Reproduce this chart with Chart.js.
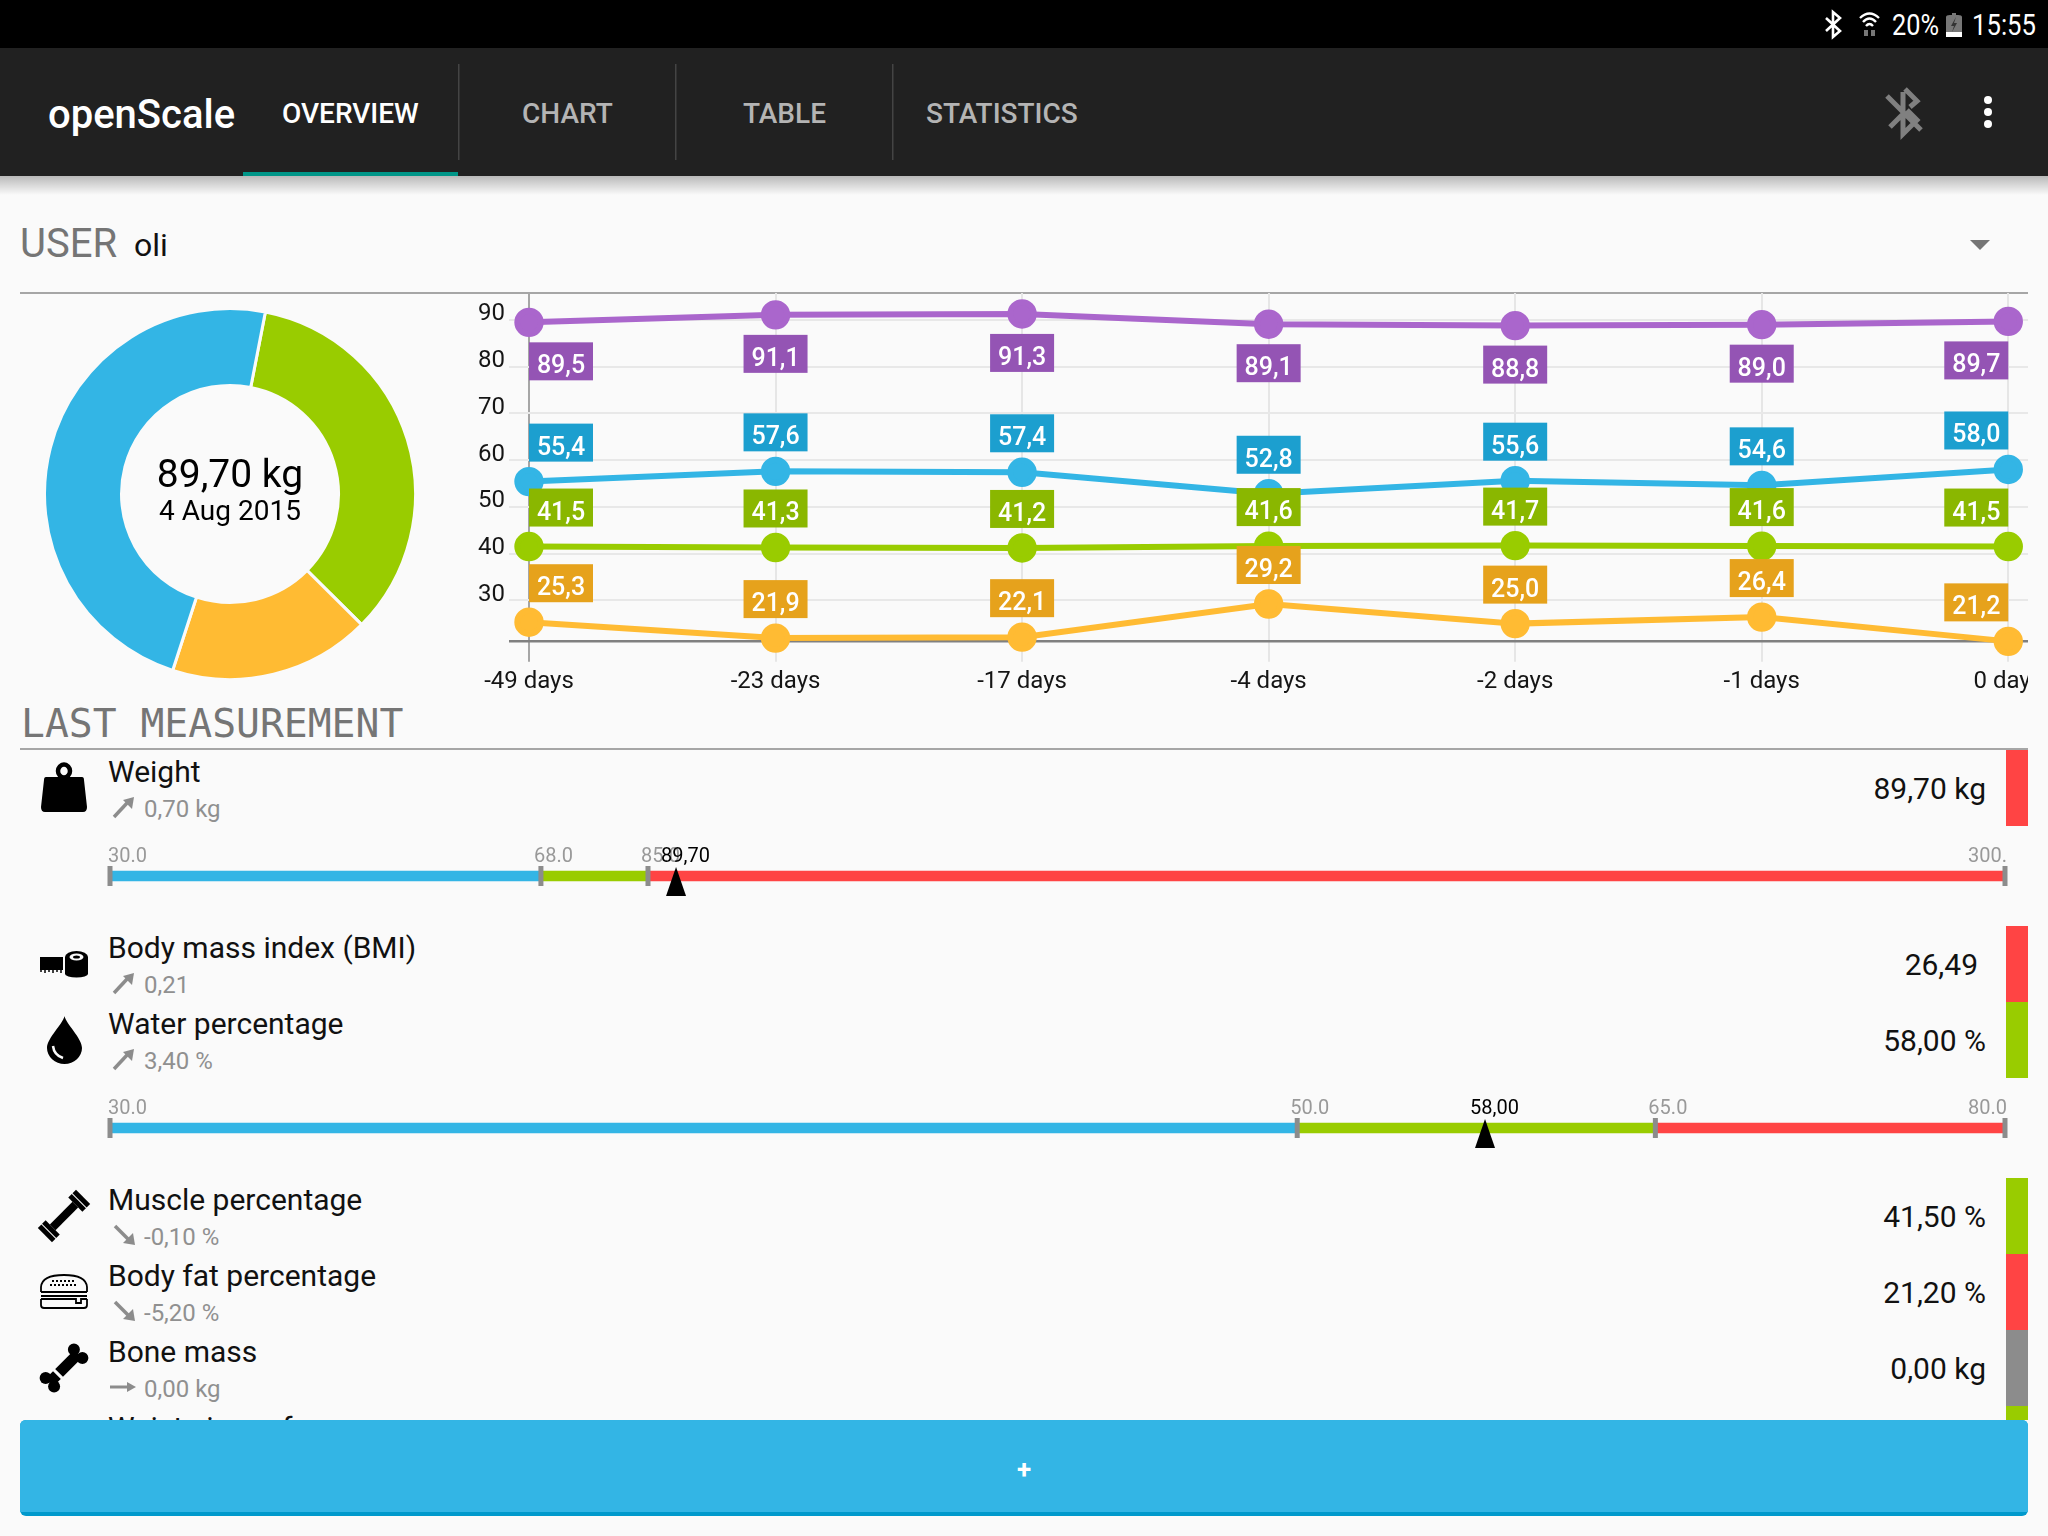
<!DOCTYPE html>
<html>
<head>
<meta charset="utf-8">
<title>openScale</title>
<script src="https://cdn.jsdelivr.net/npm/chart.js@4/dist/chart.umd.min.js"></script>
<style>
    html, body { margin: 0; padding: 0; background: #fafafa; }
    #page { position: relative; width: 2048px; height: 1536px; overflow: hidden; }
    #page svg { position: absolute; left: 0; top: 0; }
    canvas { position: absolute; }
    text { font-family: Roboto, sans-serif; }
    .tab { font-size: 28px; font-weight: 500; fill: #b4b4b4; }
    .title { font-size: 30px; fill: #111; }
    .sub { font-size: 24px; fill: #909090; }
    .val { font-size: 30px; fill: #111; text-anchor: end; }
    .rule { fill: #a6a6a6; }
</style>
</head>
<body>
<div id="page">
<svg width="2048" height="1536" viewBox="0 0 2048 1536">
    <defs>
        <linearGradient id="headShadow" x1="0" y1="0" x2="0" y2="1">
            <stop offset="0" stop-color="#000" stop-opacity="0.26"/>
            <stop offset="1" stop-color="#000" stop-opacity="0"/>
        </linearGradient>
        <g id="arrowUp"><path d="M2 20 L16 5" stroke="#8c8c8c" stroke-width="3.5" fill="none"/><path d="M22 0 L20 12 L11 3Z" fill="#8c8c8c"/></g>
        <g id="arrowDown"><path d="M2 1 L16 15" stroke="#8c8c8c" stroke-width="3.5" fill="none"/><path d="M22 20 L10 18 L20 8Z" fill="#8c8c8c"/></g>
    </defs>

    <!-- status bar -->
    <rect x="0" y="0" width="2048" height="48" fill="#000"/>
    <path d="M1826 18 L1840 31 L1833 37 V12 L1840 18 L1826 31" stroke="#fff" stroke-width="2.6" fill="none"/>
    <g fill="none" stroke="#fff" stroke-width="2.4">
        <path d="M1860 18 Q1869.500 9 1879 18"/><path d="M1863 22 Q1869.500 15 1876 22"/><path d="M1866 26 Q1869.500 22 1873 26"/>
    </g>
    <path d="M1864 30 h4 v6 h-4z M1871 30 h4 v6 h-4z" fill="#777"/>
    <text x="1892" y="35" font-size="30" fill="#fff" textLength="47" lengthAdjust="spacingAndGlyphs">20%</text>
    <path d="M1950 15 h2 v-2 h4 v2 h2 q4 0 4 2 v15 h-16 v-15 q0 -2 4 -2z" fill="#777"/>
    <path d="M1956 17 L1951 26 H1954 L1952 32 L1957 23 H1954Z" fill="#333"/>
    <rect x="1946" y="32" width="16" height="5" fill="#fff"/>
    <text x="1972" y="35" font-size="30" fill="#fff" textLength="64" lengthAdjust="spacingAndGlyphs">15:55</text>

    <!-- action bar -->
    <rect x="0" y="48" width="2048" height="128" fill="#212121"/>
    <text x="48" y="128" font-size="40" font-weight="500" fill="#fff">openScale</text>
    <text x="282" y="123" class="tab" style="fill:#fff">OVERVIEW</text>
    <text x="522" y="123" class="tab">CHART</text>
    <text x="743" y="123" class="tab">TABLE</text>
    <text x="926" y="123" class="tab">STATISTICS</text>
    <rect x="458" y="64" width="1.500" height="96" fill="#444"/>
    <rect x="675" y="64" width="1.500" height="96" fill="#444"/>
    <rect x="892" y="64" width="1.500" height="96" fill="#444"/>
    <rect x="243" y="172" width="215" height="4" fill="#009688"/>
    <path d="M1887 96 L1921 130 M1890 127 L1904 113 M1903 92 V134 L1917 120 L1907 110 M1905 89 L1917 101 L1910 107" stroke="#808080" stroke-width="5" fill="none"/>
    <circle cx="1988" cy="100" r="4" fill="#fff"/><circle cx="1988" cy="112" r="4" fill="#fff"/><circle cx="1988" cy="124" r="4" fill="#fff"/>
    <rect x="0" y="176" width="2048" height="19" fill="url(#headShadow)"/>

    <!-- user row -->
    <text x="20" y="257" font-size="40" fill="#757575">USER</text>
    <text x="134" y="256" font-size="32" fill="#111">oli</text>
    <path d="M1970 240 H1990 L1980 250Z" fill="#757575"/>
    <rect class="rule" x="20" y="292" width="2008" height="2"/>

    <!-- last measurement -->
    <text x="21" y="737" font-size="39.700" fill="#757575" style="font-family:'DejaVu Sans Mono',monospace">LAST MEASUREMENT</text>
    <rect class="rule" x="20" y="748" width="2008" height="2"/>

    <!-- weight -->
    <path d="M46 777 H82 Q84 777 84 780 L87 807 Q87 812 83 812 H45 Q41 812 41 807 L44 780 Q44 777 46 777Z" fill="#000"/>
    <ellipse cx="64" cy="771" rx="6" ry="6.500" stroke="#000" stroke-width="4.500" fill="none"/>
    <text x="108" y="782" class="title">Weight</text>
    <use href="#arrowUp" x="112" y="797"/>
    <text x="144" y="817" class="sub">0,70 kg</text>
    <text x="1986" y="799" class="val">89,70 kg</text>
    <rect x="2006" y="750" width="22" height="76" fill="#ff4444"/>

    <!-- bmi -->
    <rect x="40" y="957" width="23" height="13" fill="#000"/>
    <path d="M41 970 v2 M45 970 v3 M49 970 v2 M53 970 v3 M57 970 v2 M61 970 v3" stroke="#000" stroke-width="1.500"/>
    <rect x="65" y="957" width="23" height="17" fill="#000"/>
    <ellipse cx="76.500" cy="957" rx="11.500" ry="6" fill="#000"/>
    <ellipse cx="76.500" cy="974" rx="11.500" ry="3.500" fill="#000"/>
    <ellipse cx="76.500" cy="957" rx="7" ry="3.500" fill="#fafafa"/>
    <ellipse cx="76.500" cy="957" rx="3.500" ry="1.600" fill="#000"/>
    <text x="108" y="958" class="title">Body mass index (BMI)</text>
    <use href="#arrowUp" x="112" y="973"/>
    <text x="144" y="993" class="sub">0,21</text>
    <text x="1978" y="975" class="val">26,49</text>
    <rect x="2006" y="926" width="22" height="76" fill="#ff4444"/>

    <!-- water -->
    <path d="M64.500 1016 C63 1024 47 1038 47 1048 A17.500 16 0 0 0 82 1048 C82 1038 66 1024 64.500 1016Z" fill="#000"/>
    <path d="M53 1046 Q54 1055 63 1058" stroke="#fafafa" stroke-width="2.500" fill="none"/>
    <text x="108" y="1034" class="title">Water percentage</text>
    <use href="#arrowUp" x="112" y="1049"/>
    <text x="144" y="1069" class="sub">3,40 %</text>
    <text x="1986" y="1051" class="val">58,00 %</text>
    <rect x="2006" y="1002" width="22" height="76" fill="#99cc00"/>

    <!-- muscle -->
    <g transform="rotate(-45 64 1216)" fill="#000">
        <rect x="48" y="1212" width="32" height="8"/>
        <rect x="43" y="1206" width="5" height="20"/><rect x="37" y="1206" width="5" height="20"/>
        <rect x="80" y="1206" width="5" height="20"/><rect x="86" y="1206" width="5" height="20"/>
    </g>
    <text x="108" y="1210" class="title">Muscle percentage</text>
    <use href="#arrowDown" x="113" y="1225"/>
    <text x="144" y="1245" class="sub">-0,10 %</text>
    <text x="1986" y="1227" class="val">41,50 %</text>
    <rect x="2006" y="1178" width="22" height="76" fill="#99cc00"/>

    <!-- body fat -->
    <g fill="none" stroke="#000" stroke-width="1.800">
        <path d="M41 1292 V1287 Q42 1275 64 1275 Q86 1275 87 1287 V1292"/>
        <path d="M41 1292 H87 M41 1296 H87 M41 1299 H76 V1303 H81 V1299 H87"/>
        <path d="M41 1299 V1305 Q41 1308 44 1308 H84 Q87 1308 87 1305 V1299"/>
        <path d="M52 1281 H76 M50 1285 H78" stroke-dasharray="2 2"/>
    </g>
    <text x="108" y="1286" class="title">Body fat percentage</text>
    <use href="#arrowDown" x="113" y="1301"/>
    <text x="144" y="1321" class="sub">-5,20 %</text>
    <text x="1986" y="1303" class="val">21,20 %</text>
    <rect x="2006" y="1254" width="22" height="76" fill="#ff4444"/>

    <!-- bone -->
    <g transform="rotate(-45 64 1368)" fill="#000">
        <rect x="44" y="1362.500" width="40" height="11"/>
        <circle cx="84" cy="1362" r="6"/><circle cx="84" cy="1374" r="6"/>
        <circle cx="44" cy="1362" r="6"/><circle cx="44" cy="1374" r="6"/>
        <rect x="54" y="1360" width="3" height="16" fill="#fafafa"/>
    </g>
    <text x="108" y="1362" class="title">Bone mass</text>
    <path d="M110 1387 H130" stroke="#8c8c8c" stroke-width="3"/><path d="M136 1387 L127 1382 V1392Z" fill="#8c8c8c"/>
    <text x="144" y="1397" class="sub">0,00 kg</text>
    <text x="1986" y="1379" class="val">0,00 kg</text>
    <rect x="2006" y="1330" width="22" height="76" fill="#8c8c8c"/>

    <!-- waist row is mostly hidden by the add button -->
    <text x="108" y="1438" class="title">Waist circumference</text>
    <rect x="2006" y="1406" width="22" height="30" fill="#99cc00"/>

    <!-- add button -->
    <rect x="0" y="1420" width="2048" height="116" fill="#fafafa"/>
    <rect x="20" y="1420" width="2008" height="96" rx="6" fill="#0099cc"/>
    <path d="M20 1426 Q20 1420 26 1420 H2022 Q2028 1420 2028 1426 V1512 H20Z" fill="#33b5e5"/>
    <text x="1024" y="1478" font-size="26" font-weight="700" fill="#fff" text-anchor="middle">+</text>
</svg>

<canvas id="donut" width="374" height="374" style="left:43px;top:307px"></canvas>
<canvas id="trend" width="1558" height="412" style="left:470px;top:293px"></canvas>
<canvas id="weightRange" width="1918" height="72" style="left:90px;top:840px"></canvas>
<canvas id="waterRange" width="1918" height="72" style="left:90px;top:1092px"></canvas>
</div>

<script>
// ========================================
// Values
// ========================================
const dayLabels = ['-49 days', '-23 days', '-17 days', '-4 days', '-2 days', '-1 days', '0 days'];
const yTickValues = [30, 40, 50, 60, 70, 80, 90];
const weightSeries = [89.5, 91.1, 91.3, 89.1, 88.8, 89.0, 89.7];
const waterSeries = [55.4, 57.6, 57.4, 52.8, 55.6, 54.6, 58.0];
const muscleSeries = [41.5, 41.3, 41.2, 41.6, 41.7, 41.6, 41.5];
const fatSeries = [25.3, 21.9, 22.1, 29.2, 25.0, 26.4, 21.2];

const weightRangeSpans = [22.74, 5.65, 71.61];
const weightRangeLabels = ['30.0', '68.0', '85.0', '300.0'];
const weightMarker = 29.87;
const waterRangeSpans = [62.65, 18.9, 18.45];
const waterRangeLabels = ['30.0', '50.0', '65.0', '80.0'];
const waterMarker = 72.56;

const PURPLE = '#aa66cc', BLUE = '#33b5e5', GREEN = '#99cc00', ORANGE = '#ffbb33', RED = '#ff4444';
const FONT = 'Roboto';

// ========================================
// Doughnut with latest values
// ========================================
const donutCenterText = {
    id: 'donutCenterText',
    afterDraw(chart) {
        const ctx = chart.ctx;
        const cx = chart.width / 2;
        ctx.save();
        ctx.fillStyle = '#000';
        ctx.textAlign = 'center';
        ctx.textBaseline = 'alphabetic';
        ctx.font = '39px ' + FONT;
        ctx.fillText('89,70 kg', cx, 180);
        ctx.font = '28px ' + FONT;
        ctx.fillText('4 Aug 2015', cx, 213);
        ctx.restore();
    }
};

new Chart(document.getElementById('donut'), {
    type: 'doughnut',
    data: {
        labels: ['Muscle', 'Fat', 'Water'],
        datasets: [{
            data: [muscleSeries[6], fatSeries[6], waterSeries[6]],
            backgroundColor: [GREEN, ORANGE, BLUE],
            borderColor: '#fafafa',
            borderWidth: 3
        }]
    },
    options: {
        responsive: false,
        animation: false,
        rotation: 11,
        cutout: 108.5,
        layout: { autoPadding: false },
        plugins: { legend: { display: false }, tooltip: { enabled: false } }
    },
    plugins: [donutCenterText]
});

// ========================================
// Line chart
// ========================================
const Y_MIN = 21.13;
const Y_MAX = 95.78;
const LABEL_W = 64;
const LABEL_H = 38;
const LABEL_GAP = 20;

// value boxes on the points, darker than the line
const pointBoxes = {
    id: 'pointBoxes',
    afterDatasetsDraw(chart) {
        const ctx = chart.ctx;
        ctx.save();
        ctx.textAlign = 'center';
        ctx.textBaseline = 'alphabetic';
        ctx.font = '500 25px ' + FONT;
        chart.data.datasets.forEach((ds, d) => {
            chart.getDatasetMeta(d).data.forEach((pt, i) => {
                let left = pt.x - LABEL_W / 2;
                if (i === 0) left = pt.x;
                if (i === ds.data.length - 1) left = pt.x - LABEL_W;
                const top = ds.boxBelow ? pt.y + LABEL_GAP : pt.y - LABEL_GAP - LABEL_H;
                ctx.fillStyle = ds.boxColor;
                ctx.fillRect(left, top, LABEL_W, LABEL_H);
                ctx.fillStyle = '#fff';
                ctx.fillText(ds.data[i].y.toFixed(1).replace('.', ','), left + LABEL_W / 2, top + LABEL_H - 7);
            });
        });
        ctx.restore();
    }
};

function lineSeries(values, color, boxColor, boxBelow, order) {
    return {
        data: values.map((v, i) => ({ x: i, y: v })),
        borderColor: color,
        backgroundColor: color,
        borderWidth: 6,
        pointRadius: 11.7,
        tension: 0,
        clip: false,
        boxColor: boxColor,
        boxBelow: boxBelow,
        order: order
    };
}

new Chart(document.getElementById('trend'), {
    type: 'line',
    data: {
        datasets: [
            lineSeries(weightSeries, PURPLE, '#9454b4', true, 4),
            lineSeries(waterSeries, BLUE, '#1c9fcf', false, 3),
            lineSeries(muscleSeries, GREEN, '#8ab700', false, 2),
            lineSeries(fatSeries, ORANGE, '#e6a21c', false, 1)
        ]
    },
    options: {
        responsive: false,
        animation: false,
        layout: { autoPadding: false },
        plugins: { legend: { display: false }, tooltip: { enabled: false } },
        scales: {
            x: {
                type: 'linear',
                min: 0,
                max: 6.08,
                afterBuildTicks(scale) {
                    scale.ticks = dayLabels.map((_, i) => ({ value: i }));
                },
                afterFit(scale) {
                    scale.height = 63.3;
                    scale.paddingLeft = 0;
                    scale.paddingRight = 0;
                },
                border: { display: false },
                grid: {
                    lineWidth: 2,
                    tickLength: 20,
                    color: ctx => ctx.index === 0 ? '#a6a6a6' : '#e6e6e6'
                },
                ticks: {
                    autoSkip: false,
                    minRotation: 0,
                    maxRotation: 0,
                    padding: 6,
                    color: '#151515',
                    font: { family: FONT, size: 24 },
                    callback: value => dayLabels[value]
                }
            },
            y: {
                min: Y_MIN,
                max: Y_MAX,
                afterBuildTicks(scale) {
                    scale.ticks = [Y_MIN].concat(yTickValues).map(v => ({ value: v }));
                },
                afterFit(scale) {
                    scale.width = 59;
                    scale.paddingTop = 0;
                    scale.paddingBottom = 0;
                },
                border: { display: false },
                grid: {
                    lineWidth: ctx => ctx.tick && ctx.tick.value === Y_MIN ? 2.5 : 2,
                    tickLength: 20,
                    color: ctx => ctx.tick && ctx.tick.value === Y_MIN ? '#808080' : '#e8e8e8'
                },
                ticks: {
                    autoSkip: false,
                    padding: 4,
                    labelOffset: -5.5,
                    color: '#151515',
                    font: { family: FONT, size: 24 },
                    callback: value => value === Y_MIN ? '' : value
                }
            }
        }
    },
    plugins: [pointBoxes]
});

// ========================================
// Range bars under weight and water
// ========================================
function rangeBar(canvasId, spans, labels, marker) {
    const rangeMarks = {
        id: 'rangeMarks',
        afterDraw(chart) {
            const ctx = chart.ctx;
            const xs = chart.scales.x;
            const mid = chart.height / 2;
            ctx.save();
            ctx.textBaseline = 'alphabetic';
            ctx.font = '20px ' + FONT;

            let at = 0;
            labels.forEach((text, i) => {
                const px = xs.getPixelForValue(at);
                ctx.fillStyle = '#8c8c8c';
                ctx.fillRect(px - 2.5, mid - 10, 5, 20);
                ctx.fillStyle = '#999';
                let textX = px - 7;
                if (i === 0) textX = px - 2;
                if (i === labels.length - 1) textX = px - 37;
                ctx.fillText(text, textX, mid - 14.5);
                at += spans[i] || 0;
            });

            // current value
            const mx = xs.getPixelForValue(marker.at);
            ctx.fillStyle = '#000';
            ctx.beginPath();
            ctx.moveTo(mx, mid - 9);
            ctx.lineTo(mx + 10, mid + 20);
            ctx.lineTo(mx - 10, mid + 20);
            ctx.closePath();
            ctx.fill();
            ctx.fillText(marker.text, mx - 15, mid - 14.5);
            ctx.restore();
        }
    };

    const colors = [BLUE, GREEN, RED];
    new Chart(document.getElementById(canvasId), {
        type: 'bar',
        data: {
            labels: [''],
            datasets: spans.map((span, i) => ({
                data: [span],
                backgroundColor: colors[i],
                barThickness: 10,
                borderWidth: 0
            }))
        },
        options: {
            indexAxis: 'y',
            responsive: false,
            animation: false,
            layout: { autoPadding: false, padding: { left: 20, right: 3 } },
            plugins: { legend: { display: false }, tooltip: { enabled: false } },
            scales: {
                x: { display: false, stacked: true, min: 0, max: 100 },
                y: { display: false, stacked: true }
            }
        },
        plugins: [rangeMarks]
    });
}

rangeBar('weightRange', weightRangeSpans, weightRangeLabels, { at: weightMarker, text: '89,70' });
rangeBar('waterRange', waterRangeSpans, waterRangeLabels, { at: waterMarker, text: '58,00' });
</script>
</body>
</html>
